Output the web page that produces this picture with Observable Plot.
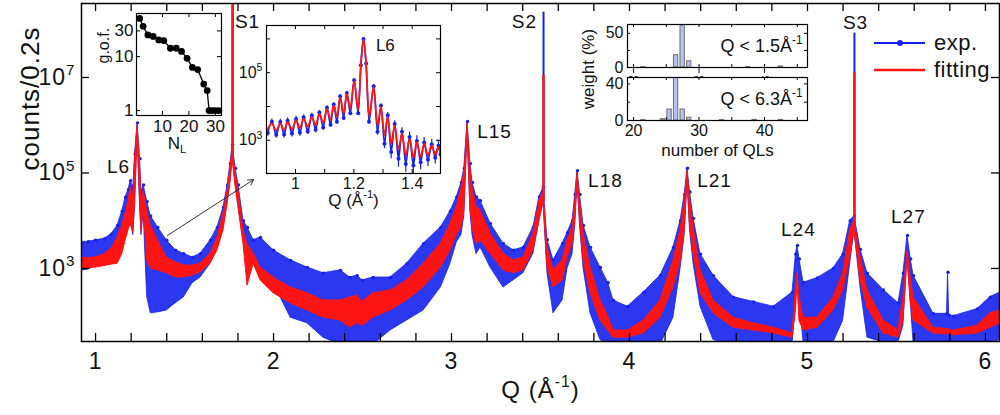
<!DOCTYPE html>
<html><head><meta charset="utf-8">
<script src="https://cdn.jsdelivr.net/npm/d3@7"></script>
<script src="https://cdn.jsdelivr.net/npm/@observablehq/plot@0.6"></script>
<style>
body{margin:0;background:#fff;}
#chart{position:relative;width:1000px;height:415px;overflow:hidden;background:#fff;font-family:"Liberation Sans",Arial,sans-serif;}
#chart svg{position:absolute;}
</style></head><body><div id="chart"></div>
<script>
// ---------- main panel: Q (1/Å) and log10(counts/0.2s) envelopes ----------
const mainQ   = [0.921,0.96,1.00,1.05,1.09,1.124,1.15,1.169,1.185,1.197,1.212,1.222,1.236,1.25,1.258,1.27,1.29,1.31,1.35,1.40,1.45,1.495,1.545,1.59,1.646,1.685,1.719,1.742,1.758,1.77,1.787,1.803,1.831,1.854,1.888,1.927,2.00,2.096,2.19,2.28,2.376,2.43,2.47,2.50,2.56,2.657,2.75,2.843,2.94,2.994,3.03,3.056,3.072,3.09,3.106,3.118,3.14,3.163,3.219,3.292,3.348,3.404,3.46,3.494,3.517,3.539,3.573,3.624,3.652,3.68,3.695,3.708,3.722,3.742,3.781,3.837,3.88,3.91,3.99,4.08,4.174,4.247,4.287,4.31,4.326,4.34,4.36,4.399,4.472,4.584,4.697,4.81,4.916,4.935,4.944,4.955,4.978,5.056,5.146,5.20,5.24,5.264,5.298,5.337,5.427,5.511,5.539,5.562,5.58,5.596,5.708,5.784,5.79,5.796,5.82,5.955,6.028,6.084];
const fitLo   = [3.00,3.00,3.02,3.05,3.08,3.10,3.30,3.59,3.80,3.94,3.75,4.40,5.85,4.40,3.80,4.30,3.17,3.00,2.96,2.90,2.81,2.81,2.85,2.92,3.10,3.38,3.80,4.36,4.80,5.30,4.70,4.28,3.52,2.64,3.10,2.75,2.48,2.27,2.12,1.97,1.91,1.76,1.85,1.80,1.97,2.12,2.33,2.60,3.02,3.38,3.70,3.86,4.20,5.90,4.30,3.86,3.50,3.59,3.31,2.96,2.90,2.96,3.38,4.00,4.40,3.02,2.60,2.75,3.23,3.52,4.00,4.85,4.00,3.17,2.48,1.91,1.70,1.55,1.55,1.64,1.97,2.60,3.17,3.80,4.90,3.90,3.31,2.48,2.06,1.76,1.70,1.64,1.55,2.10,2.70,1.90,1.70,1.76,2.12,2.54,3.23,3.80,2.75,2.18,1.64,1.55,1.90,3.20,2.30,1.91,1.64,1.62,1.62,1.62,1.60,1.64,1.76,1.85];
const fitHi   = [3.21,3.22,3.23,3.30,3.42,3.65,3.90,4.15,4.40,4.70,4.50,5.30,6.00,5.20,4.40,4.63,4.20,3.90,3.59,3.23,3.13,3.06,3.06,3.10,3.31,3.65,4.15,4.63,5.10,5.50,5.00,4.63,3.80,3.50,3.31,3.02,2.81,2.60,2.48,2.33,2.33,2.39,2.43,2.30,2.48,2.54,2.75,3.10,3.52,3.94,4.30,4.68,5.00,6.04,5.10,4.68,4.30,4.21,3.73,3.31,3.17,3.23,3.73,4.42,4.60,3.44,2.96,3.17,3.59,3.86,4.40,5.01,4.40,3.73,3.02,2.33,2.00,1.70,1.70,1.91,2.33,3.17,3.80,4.40,5.05,4.45,3.86,2.96,2.33,1.97,1.85,1.76,1.64,2.60,2.90,2.40,1.97,1.97,2.39,2.90,3.80,4.00,3.23,2.54,1.91,1.70,2.40,3.38,2.80,2.39,1.76,1.73,1.73,1.72,1.70,1.80,2.06,2.12];
const expLo   = [2.95,2.98,3.05,3.08,3.10,3.15,3.40,3.70,3.85,4.00,3.70,4.30,5.80,4.30,3.70,4.20,2.40,2.06,2.08,2.12,2.27,2.39,2.69,2.81,3.10,3.44,3.86,4.40,4.85,5.30,4.80,4.30,3.59,3.44,3.17,3.02,2.69,1.97,1.85,1.55,1.40,1.40,1.40,1.40,1.40,1.70,1.91,2.12,2.60,3.10,3.55,3.70,4.10,5.85,4.20,3.70,3.30,3.44,3.02,2.60,2.75,2.90,3.31,4.00,4.40,2.90,2.06,2.33,3.00,3.30,3.90,4.80,3.90,3.00,2.06,1.50,1.40,1.40,1.40,1.40,1.40,1.97,3.00,3.70,4.85,3.80,3.10,2.20,1.50,1.40,1.40,1.40,1.40,2.30,3.20,2.40,1.45,1.45,1.45,1.90,3.10,3.80,2.60,1.55,1.45,1.45,1.80,3.30,2.30,1.45,1.45,1.45,1.45,1.45,1.45,1.45,1.45,1.50];
const expHi   = [3.55,3.56,3.59,3.62,3.72,3.90,4.20,4.49,4.65,4.84,4.70,5.40,6.05,5.30,4.60,4.75,4.40,4.10,3.86,3.59,3.38,3.31,3.23,3.31,3.59,3.86,4.28,4.75,5.20,5.60,5.10,4.75,4.00,3.86,3.59,3.65,3.38,3.17,3.02,2.90,2.96,2.81,2.85,2.75,2.81,2.81,3.10,3.52,3.86,4.20,4.50,4.80,5.10,6.08,5.20,4.80,4.50,4.42,3.94,3.52,3.38,3.44,3.86,4.50,4.70,3.60,3.17,3.52,3.75,4.00,4.55,5.05,4.55,3.90,3.44,3.02,2.70,2.33,2.20,2.50,2.85,3.44,4.00,4.55,5.10,4.60,4.05,3.30,2.85,2.40,2.30,2.20,2.50,3.30,3.48,3.20,2.70,2.80,3.00,3.30,4.00,4.10,3.40,2.90,2.55,2.27,2.90,3.69,3.20,2.85,2.05,2.05,2.92,2.02,2.00,2.15,2.40,2.50];

// substrate peaks (S1, S2, S3): Q, base of spike, tops (log10 counts)
const subQ      = [1.770, 3.517, 5.264];
const subBase   = [5.3, 4.4, 3.8];
const subFitTop = [8.7, 7.05, 7.10];
const subExpTop = [8.7, 8.37, 7.93];

// peak annotations
const peakNames    = ["S1","S2","S3","L6","L15","L18","L21","L24","L27"];
const peakLabelQ   = [1.854, 3.410, 5.270, 1.129, 3.242, 3.865, 4.478, 4.949, 5.567];
const peakLabelLog = [8.17, 8.17, 8.15, 5.12, 5.87, 4.84, 4.84, 3.80, 4.07];
const arrowQ   = [1.404, 1.888];
const arrowLog = [3.69, 4.86];

// ---------- inset: L6 region with thickness fringes ----------
const insetQ   = [0.905,0.919,0.934,0.948,0.961,0.973,0.988,1.002,1.015,1.028,1.042,1.056,1.069,1.082,1.095,1.108,1.120,1.131,1.142,1.153,1.165,1.176,1.188,1.201,1.215,1.224,1.233,1.242,1.252,1.268,1.281,1.293,1.305,1.316,1.328,1.340,1.353,1.365,1.378,1.391,1.404,1.416,1.429,1.441,1.454,1.467,1.479,1.490,1.497];
const insetFit = [3.33,3.49,3.29,3.49,3.30,3.54,3.33,3.59,3.36,3.64,3.40,3.69,3.45,3.78,3.52,3.93,3.60,4.03,3.70,4.27,3.80,4.37,3.95,4.76,3.90,5.20,5.99,5.25,3.70,4.57,3.45,3.98,3.15,3.69,2.90,3.44,2.72,3.20,2.55,3.05,2.48,2.95,2.50,2.90,2.55,2.85,2.58,2.80,2.65];
const insetExp = [3.22,3.55,3.16,3.54,3.17,3.58,3.20,3.63,3.22,3.68,3.26,3.73,3.31,3.82,3.38,3.96,3.46,4.06,3.55,4.30,3.66,4.40,3.80,4.78,3.80,5.22,6.00,5.27,3.55,4.60,3.25,4.02,2.90,3.74,2.65,3.48,2.45,3.25,2.30,3.10,2.25,2.98,2.35,2.93,2.42,2.88,2.48,2.84,2.58];
const insetErr = [0.10,0.08,0.10,0.08,0.10,0.08,0.10,0.08,0.10,0.07,0.09,0.07,0.09,0.06,0.09,0.06,0.08,0.05,0.07,0.05,0.07,0.04,0.06,0.04,0.06,0.03,0.02,0.03,0.07,0.04,0.10,0.06,0.15,0.08,0.20,0.10,0.25,0.12,0.25,0.14,0.25,0.15,0.22,0.15,0.20,0.15,0.18,0.15,0.15];

// ---------- inset: goodness of fit vs number of layers ----------
const gofN     = [1.4,2.7,4.5,6.5,8.6,10.5,13,15.2,17.2,19.3,21.3,23.3,25.6,26.9,27.6,28.8,30,31.3];
const gofValue = [51,36.4,25.2,23.7,20.4,19.8,14.3,14.3,12.5,9.3,6.3,5.75,3.1,2.35,1,1,1,1];

// ---------- inset: weight histograms of number of QLs ----------
const histTopBins    = [21,26,27,28,37,42];
const histTopWeight  = [0.5,18,62,9,0.5,1.5];
const histBotBins    = [21,24,25,26,27,28,33,38,42];
const histBotWeight  = [0.4,1.5,12,50,12,3,0.4,0.6,0.6];

// ---------- styling ----------
const FONT = '"Liberation Sans", Arial, sans-serif';
const BLUE = "#1522ee", RED = "#ff1414";
const chart = document.getElementById("chart");
const pow = v => Math.pow(10, v);

function inTicks(xs, ys, iw, ih, len, sw = 1) {
  const m = [];
  if (xs) m.push(
    Plot.tickX(xs, {x: d => d, insetTop: ih - len, stroke: "black", strokeWidth: sw}),
    Plot.tickX(xs, {x: d => d, insetBottom: ih - len, stroke: "black", strokeWidth: sw}));
  if (ys) m.push(
    Plot.tickY(ys, {y: d => d, insetRight: iw - len, stroke: "black", strokeWidth: sw}),
    Plot.tickY(ys, {y: d => d, insetLeft: iw - len, stroke: "black", strokeWidth: sw}));
  return m;
}
const decade = d => "10^" + Math.round(Math.log10(d));

// ---------- main plot ----------
const mainRows = mainQ.map((q, i) => ({q, fitLo: pow(fitLo[i]), fitHi: pow(fitHi[i]), expLo: pow(expLo[i]), expHi: pow(expHi[i])}));
const subRows = subQ.map((q, i) => ({q, base: pow(subBase[i]), fitTop: pow(subFitTop[i]), expTop: pow(subExpTop[i])}));
const labelRows = peakNames.map((name, i) => ({name, q: peakLabelQ[i], c: pow(peakLabelLog[i])}));
const arrowRows = [{q1: arrowQ[0], c1: pow(arrowLog[0]), q2: arrowQ[1], c2: pow(arrowLog[1])}];

const W = 1000, H = 415, mL = 81, mR = 1, mT = 3, mB = 74;
const iW = W - mL - mR, iH = H - mT - mB;
const xMinor = d3.range(5, 31).map(k => k / 5);

const mainPlot = Plot.plot({
  width: W, height: H, marginLeft: mL, marginRight: mR, marginTop: mT, marginBottom: mB,
  x: {domain: [0.921, 6.079]},
  y: {type: "log", domain: [pow(1.47), pow(8.55)]},
  style: {left: "0px", top: "0px", background: "transparent", fontFamily: FONT, letterSpacing: "1px", color: "#111"},
  marks: [
    Plot.areaY(mainRows, {x: "q", y1: "expLo", y2: "expHi", fill: BLUE, fillOpacity: 0.9, stroke: BLUE, strokeWidth: 0.8, clip: true}),
    Plot.dot(mainRows, {x: "q", y: "expHi", r: 1.7, fill: BLUE, clip: true}),
    Plot.ruleX(subRows, {x: "q", y1: "base", y2: "expTop", stroke: BLUE, strokeWidth: 2, clip: true}),
    Plot.areaY(mainRows, {x: "q", y1: "fitLo", y2: "fitHi", fill: RED, stroke: RED, strokeWidth: 1, clip: true}),
    Plot.ruleX(subRows, {x: "q", y1: "base", y2: "fitTop", stroke: RED, strokeWidth: 2.5, clip: true}),
    Plot.arrow(arrowRows, {x1: "q1", y1: "c1", x2: "q2", y2: "c2", stroke: "#333", strokeWidth: 1, headLength: 9}),
    Plot.text(labelRows, {x: "q", y: "c", text: "name", fontSize: 19}),
    Plot.frame({stroke: "black", strokeWidth: 1.5}),
    ...inTicks(xMinor, [1e3, 1e5, 1e7], iW, iH, 8, 1.3),
    Plot.axisX({ticks: [1, 2, 3, 4, 5, 6], tickSize: 0, tickPadding: 11, fontSize: 23, label: null, tickFormat: d => String(d)}),
    Plot.axisY({ticks: [1e3, 1e5, 1e7], tickSize: 0, tickPadding: 6, fontSize: 23, label: null, tickFormat: decade}),
    Plot.text(["counts/0.2s"], {text: d => d, frameAnchor: "left", dx: -51, dy: -2, rotate: -90, fontSize: 26}),
    Plot.text(["Q (Å^-1)"], {text: d => d, frameAnchor: "bottom", dy: 56, fontSize: 24})
  ]
});
chart.appendChild(mainPlot);

// ---------- g.o.f. inset ----------
const gofRows = gofN.map((n, i) => ({n, g: gofValue[i]}));
const gofPlot = Plot.plot({
  width: 130, height: 160, marginLeft: 41, marginTop: 8, marginRight: 4, marginBottom: 50,
  x: {domain: [0.2, 32.3]},
  y: {type: "log", domain: [0.81, 63]},
  style: {left: "95px", top: "5px", background: "transparent", fontFamily: FONT, overflow: "visible", color: "#111"},
  marks: [
    Plot.frame({fill: "white", stroke: "none"}),
    Plot.line(gofRows, {x: "n", y: "g", stroke: "black", strokeWidth: 1.3}),
    Plot.dot(gofRows, {x: "n", y: "g", r: 3.4, fill: "black"}),
    Plot.frame({stroke: "black", strokeWidth: 1.2}),
    ...inTicks([10, 20, 30], [1, 10, 30], 85, 102, 4),
    Plot.axisX({ticks: [10, 20, 30], tickSize: 0, tickPadding: 4, fontSize: 17, label: null}),
    Plot.axisY({ticks: [1, 10, 30], tickSize: 0, tickPadding: 3, fontSize: 17, label: null, tickFormat: d => String(d)}),
    Plot.text(["g.o.f."], {text: d => d, frameAnchor: "left", dx: -33, dy: -1, rotate: -90, fontSize: 16, letterSpacing: "2px"}),
    Plot.text(["N_L"], {text: d => d, frameAnchor: "bottom", dy: 33, dx: -2, fontSize: 17})
  ]
});
chart.appendChild(gofPlot);

// ---------- L6 fringe inset ----------
const insetRows = insetQ.map((q, i) => ({q, fit: pow(insetFit[i]), exp: pow(insetExp[i]), lo: pow(insetExp[i] - insetErr[i]), hi: pow(insetExp[i] + insetErr[i])}));
const insetPlot = Plot.plot({
  width: 222, height: 205, marginLeft: 40, marginTop: 10, marginRight: 8, marginBottom: 47,
  x: {domain: [0.9006, 1.497]},
  y: {type: "log", domain: [pow(2.016), pow(6.397)]},
  style: {left: "226px", top: "15px", background: "transparent", fontFamily: FONT, overflow: "visible", color: "#111"},
  marks: [
    Plot.frame({fill: "white", stroke: "none"}),
    Plot.ruleX(insetRows, {x: "q", y1: "lo", y2: "hi", stroke: BLUE, strokeWidth: 1.2, clip: true}),
    Plot.line(insetRows, {x: "q", y: "exp", stroke: BLUE, strokeWidth: 1.6, curve: "monotone-x", clip: true}),
    Plot.dot(insetRows, {x: "q", y: "exp", r: 2, fill: BLUE, clip: true}),
    Plot.line(insetRows, {x: "q", y: "fit", stroke: RED, strokeWidth: 1.8, curve: "monotone-x", clip: true}),
    Plot.frame({stroke: "black", strokeWidth: 1.2}),
    ...inTicks([1.0, 1.1, 1.2, 1.3, 1.4], [1e3, 1e4, 1e5, 1e6], 174, 148, 4),
    Plot.axisX({ticks: [1, 1.2, 1.4], tickSize: 0, tickPadding: 4, fontSize: 16, label: null, tickFormat: d => String(d)}),
    Plot.axisY({ticks: [1e3, 1e5], tickSize: 0, tickPadding: 4, fontSize: 16, label: null, tickFormat: decade}),
    Plot.text(["L6"], {text: d => d, x: () => 1.308, y: () => pow(5.806), fontSize: 17}),
    Plot.text(["Q (Å^-1)"], {text: d => d, frameAnchor: "bottom", dy: 32, fontSize: 17})
  ]
});
chart.appendChild(insetPlot);

// ---------- histogram insets ----------
const topRows = histTopBins.map((b, i) => ({b0: b, b1: b + 1, w: histTopWeight[i]}));
const botRows = histBotBins.map((b, i) => ({b0: b, b1: b + 1, w: histBotWeight[i]}));
const HX = [19.08, 46.56];
const barStyle = {x1: "b0", x2: "b1", y: "w", fill: "#b3c3ee", stroke: "#6f6f6f", strokeWidth: 1, insetLeft: 1.1, insetRight: 1.1, clip: true};
const histTop = Plot.plot({
  width: 215, height: 57, marginLeft: 32, marginRight: 3, marginTop: 9, marginBottom: 5,
  x: {domain: HX}, y: {domain: [0, 63]},
  style: {left: "595px", top: "15px", background: "transparent", fontFamily: FONT, overflow: "visible", color: "#111"},
  marks: [
    Plot.frame({fill: "white", stroke: "none"}),
    Plot.rectY(topRows, barStyle),
    Plot.frame({stroke: "black", strokeWidth: 1.2}),
    ...inTicks([20, 25, 30, 35, 40, 45], [0, 25, 50], 180, 43, 3),
    Plot.axisY({ticks: [0, 50], tickSize: 0, tickPadding: 4, fontSize: 16, label: null}),
    Plot.text(["Q < 1.5Å^-1"], {text: d => d, frameAnchor: "right", dx: -5, textAnchor: "end", fontSize: 18, letterSpacing: "0.5px"})
  ]
});
chart.appendChild(histTop);
const histBot = Plot.plot({
  width: 215, height: 100, marginLeft: 32, marginRight: 3, marginTop: 7, marginBottom: 50,
  x: {domain: HX}, y: {domain: [0, 47]},
  style: {left: "595px", top: "70px", background: "transparent", fontFamily: FONT, overflow: "visible", color: "#111"},
  marks: [
    Plot.frame({fill: "white", stroke: "none"}),
    Plot.rectY(botRows, barStyle),
    Plot.frame({stroke: "black", strokeWidth: 1.2}),
    ...inTicks([20, 25, 30, 35, 40, 45], [0, 20, 40], 180, 43, 3),
    Plot.axisY({ticks: [0, 40], tickSize: 0, tickPadding: 4, fontSize: 16, label: null}),
    Plot.axisX({ticks: [20, 30, 40], tickSize: 0, tickPadding: 4, fontSize: 16, label: null}),
    Plot.text(["Q < 6.3Å^-1"], {text: d => d, frameAnchor: "right", dx: -5, textAnchor: "end", fontSize: 18, letterSpacing: "0.5px"}),
    Plot.text(["number of QLs"], {text: d => d, frameAnchor: "bottom", dy: 35, fontSize: 17, letterSpacing: "0.6px"})
  ]
});
chart.appendChild(histBot);

// ---------- overlay: legend and shared label ----------
const ov = d3.create("svg").attr("width", W).attr("height", H)
  .style("left", "0px").style("top", "0px").style("pointer-events", "none")
  .attr("font-family", FONT).attr("fill", "#111");
ov.append("line").attr("x1", 874).attr("x2", 925).attr("y1", 43).attr("y2", 43).attr("stroke", BLUE).attr("stroke-width", 2);
ov.append("circle").attr("cx", 900).attr("cy", 43).attr("r", 3).attr("fill", BLUE);
ov.append("text").attr("x", 934).attr("y", 43).attr("dy", "0.32em").attr("font-size", 22).attr("letter-spacing", "0.5px").text("exp.");
ov.append("line").attr("x1", 874).attr("x2", 925).attr("y1", 70).attr("y2", 70).attr("stroke", RED).attr("stroke-width", 2.5);
ov.append("text").attr("x", 934).attr("y", 70).attr("dy", "0.32em").attr("font-size", 22).attr("letter-spacing", "0.5px").text("fitting");
ov.append("text").attr("transform", "translate(589,69) rotate(-90)").attr("text-anchor", "middle").attr("dy", "0.32em").attr("font-size", 17).text("weight (%)");
chart.appendChild(ov.node());

// ---------- superscripts / subscripts ----------
function richText(root) {
  d3.select(root).selectAll("text").each(function() {
    const s = this.textContent;
    if (!/[\^_]/.test(s)) return;
    const fs = parseFloat(getComputedStyle(this).fontSize) || 16;
    const parts = [];
    const re = /\^(-?\d+)|_([A-Za-z0-9]+)/g;
    let last = 0, m;
    while ((m = re.exec(s))) {
      if (m.index > last) parts.push({t: s.slice(last, m.index), k: 0});
      if (m[1] !== undefined) parts.push({t: m[1], k: 1}); else parts.push({t: m[2], k: -1});
      last = re.lastIndex;
    }
    if (last < s.length) parts.push({t: s.slice(last), k: 0});
    const sel = d3.select(this); sel.text(null);
    let cur = 0;
    for (const p of parts) {
      const off = p.k === 1 ? -0.42 * fs : p.k === -1 ? 0.28 * fs : 0;
      const ts = sel.append("tspan").text(p.t);
      if (Math.abs(off - cur) > 0.01) ts.attr("dy", (off - cur).toFixed(2));
      if (p.k !== 0) ts.attr("font-size", (0.66 * fs).toFixed(1));
      cur = off;
    }
  });
}
richText(chart);
</script></body></html>
